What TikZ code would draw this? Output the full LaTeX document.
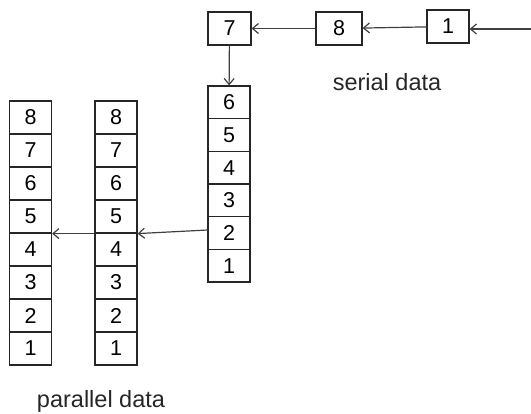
\documentclass[tikz,border=0pt]{standalone}
\usepackage{fontspec}
\setmainfont{Liberation Sans}
\usetikzlibrary{arrows.meta}
\begin{document}
\begin{tikzpicture}[x=1pt,y=-1pt,
  cell/.style={draw=black!85, line width=1.2pt, rectangle, inner sep=0pt,
    minimum width=42pt, minimum height=33pt, font=\fontsize{21.5}{21.5}\selectfont},
  link/.style={draw=black!75, line width=1.2pt,
    -{Straight Barb[length=6pt,width=10pt,line width=1.2pt]}},
  caption/.style={font=\fontsize{23.5}{23.5}\selectfont, text=black!85}]
\useasboundingbox (0,0) rectangle (531,414);

% two parallel registers, eight cells each
\foreach \v [count=\i from 0] in {8,7,6,5,4,3,2,1} {
  \node[cell] (a\v) at (30.5, 101+33*\i+16.5) {\v};
  \node[cell] (b\v) at (116, 101+33*\i+16.5) {\v};
}

% shift register column
\foreach \v [count=\i from 0] in {6,5,4,3,2,1} {
  \node[cell, minimum height=32.67pt] (c\v) at (229, 86+32.67*\i+16.33) {\v};
}

% serial input row
\node[cell, minimum width=43pt] (s7) at (229.5, 28.5) {7};
\node[cell, minimum width=46pt] (s8) at (339, 28.5) {8};
\node[cell] (s1) at (448, 26.5) {1};
\coordinate (in) at (531, 29);

\draw[link] (in) -- (s1.east |- in);
\draw[link] (s1) -- (s8);
\draw[link] (s8.west) -- (s7.east);
\draw[link] (s7) -- (c6);

\draw[link] ([yshift=3pt]c2.west) -- (b5.south east);
\draw[link] (b5.south west) -- (a5.south east);

\node[caption] (serial) at (387, 82) {serial data};
\node[caption] (parallel) at (101, 401) {parallel data};
\end{tikzpicture}
\end{document}
